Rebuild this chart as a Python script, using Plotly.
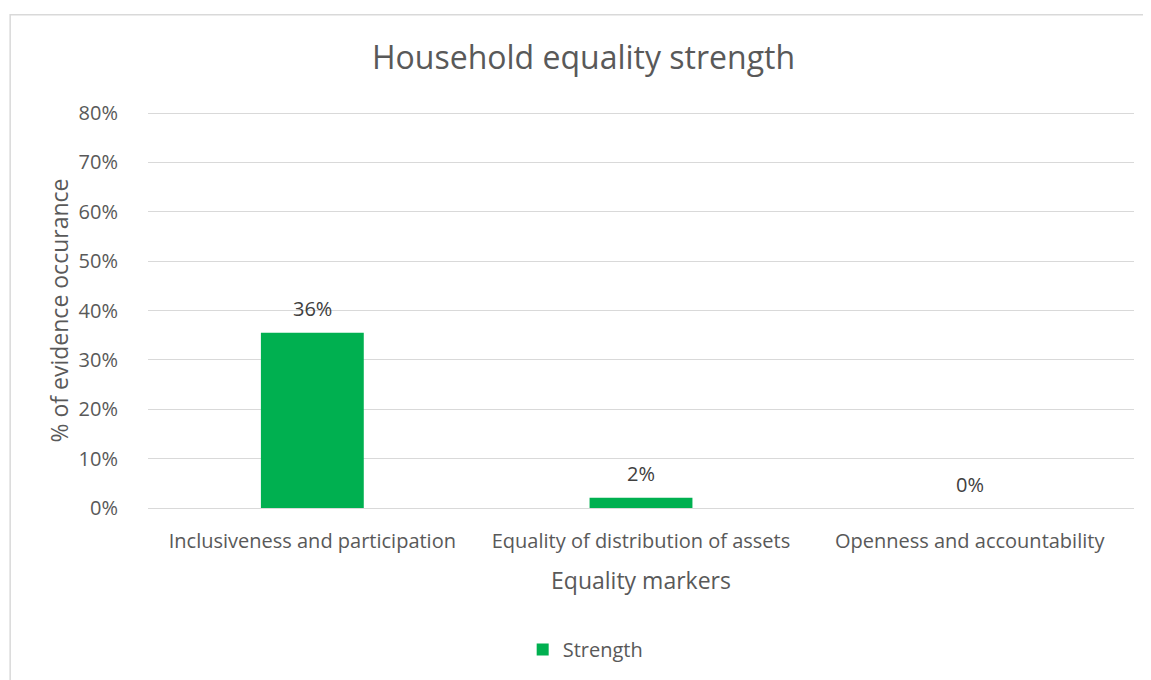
import plotly.graph_objects as go

# data
markers = ["Inclusiveness and participation",
           "Equality of distribution of assets",
           "Openness and accountability"]
strength = [0.355, 0.021, 0.0]
y_ticks = [0, 0.1, 0.2, 0.3, 0.4, 0.5, 0.6, 0.7, 0.8]
y_tick_labels = ["0%", "10%", "20%", "30%", "40%", "50%", "60%", "70%", "80%"]

FONT = "Open Sans, sans-serif"
GREY = "#595959"
GREEN = "#00b050"

fig = go.Figure()
fig.add_trace(go.Bar(
    x=markers,
    y=strength,
    name="Strength",
    marker=dict(color=GREEN, line=dict(width=0)),
    width=0.313,
))

# data labels above each bar, Excel style
for m, v in zip(markers, strength):
    fig.add_annotation(
        x=m, y=v, text=f"{round(v * 100):.0f}%",
        showarrow=False, yanchor="middle", yshift=24,
        font=dict(family=FONT, size=20, color="#404040"),
    )

# plotly drops the gridline sitting on the top edge, so draw it
# (nudged half a pixel down so it renders crisp)
fig.add_shape(type="line", xref="paper", yref="y",
              x0=0, x1=1, y0=y_ticks[-1] - 0.001, y1=y_ticks[-1] - 0.001,
              line=dict(color="#d9d9d9", width=1), layer="below")

# outer chart border
fig.add_shape(type="rect", xref="paper", yref="paper",
              x0=-0.1398, x1=1.05, y0=-0.5, y1=1.249,
              line=dict(color="#d9d9d9", width=1.5), layer="below")

# page body has an 8px margin, so the plot area is shifted up/left by 8px
fig.update_layout(
    width=1151, height=680,
    paper_bgcolor="white", plot_bgcolor="white",
    margin=dict(l=140, r=25, t=105, b=180, autoexpand=False),
    font=dict(family=FONT, size=20, color=GREY),
    title=dict(text="Household equality strength", x=0.5, xanchor="center",
               y=0.927, yanchor="middle",
               font=dict(family=FONT, size=32, color=GREY)),
    showlegend=True,
    legend=dict(orientation="h", x=0.38, xanchor="left", y=-0.358,
                yanchor="middle", font=dict(family=FONT, size=20, color=GREY)),
    bargap=0.687,
)
fig.update_yaxes(
    range=[0, 0.8], tickvals=y_ticks, ticktext=y_tick_labels,
    showgrid=True, gridcolor="#d9d9d9", gridwidth=1,
    zeroline=False, showline=False, ticks="", ticklabelstandoff=29,
    title=dict(text="% of evidence occurance", standoff=3,
               font=dict(family=FONT, size=23, color=GREY)),
)
fig.update_xaxes(
    showline=True, linecolor="#d9d9d9", linewidth=1, ticks="",
    ticklabelstandoff=15,
    title=dict(text="Equality markers", standoff=19,
               font=dict(family=FONT, size=23, color=GREY)),
)

fig.write_html("out.html")
